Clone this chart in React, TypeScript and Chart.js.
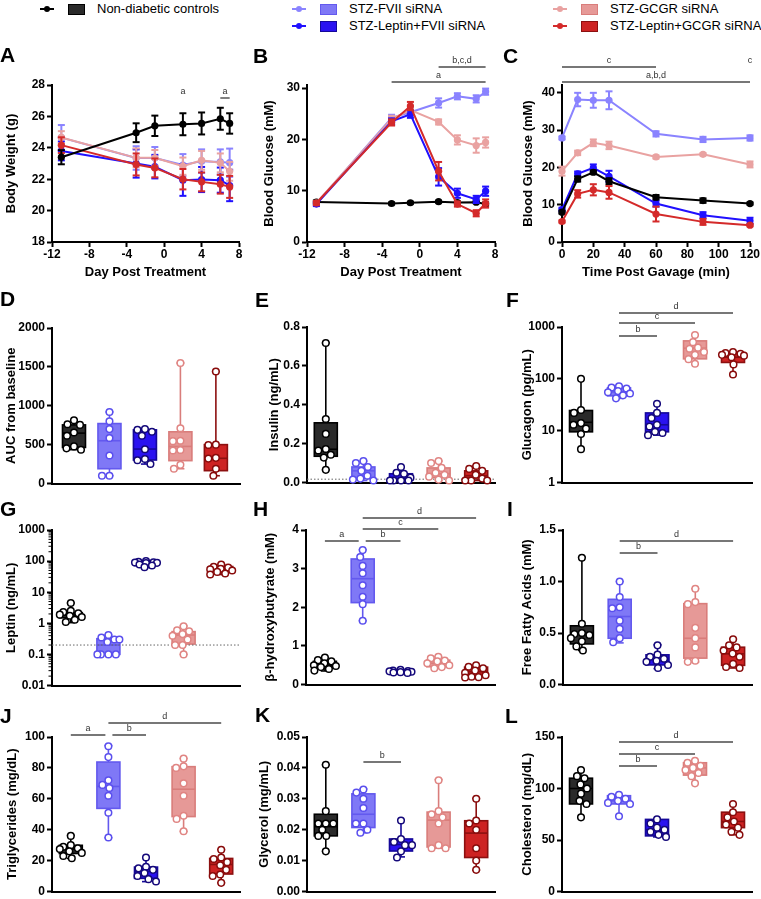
import React, { useEffect, useRef } from "react";
import { Chart, registerables } from "chart.js";

Chart.register(...registerables);

const FONT = '"Liberation Sans", Arial, Helvetica, sans-serif';

// ---------- groups ----------
const GROUPS = ["Non-diabetic controls", "STZ-FVII siRNA", "STZ-Leptin+FVII siRNA", "STZ-GCGR siRNA", "STZ-Leptin+GCGR siRNA"];
const LINE_COLOR = ["#000000", "#8a83ff", "#2010ff", "#e9a2a1", "#d42a2a"];
const BOX_FILL = ["#2a2a2a", "#7f78f6", "#2a12f0", "#e69997", "#cd2323"];
const BOX_EDGE = ["#000000", "#6359ee", "#15089a", "#d97d7b", "#8c1010"];
const DOT_EDGE = ["#000000", "#5a4fee", "#14087a", "#e08583", "#880b0b"];

// ---------- Panel A: body weight ----------
const DAYS = [-11, -3, -1, 2, 4, 6, 7];
const A_CTRL = [23.4, 24.96, 25.4, 25.5, 25.55, 25.85, 25.55];
const A_CTRL_SEM = [0.45, 0.6, 0.65, 0.7, 0.7, 0.7, 0.65];
const A_FVII = [24.65, 23.35, 23.35, 22.9, 23.15, 23.1, 23.05];
const A_FVII_SEM = [0.8, 0.75, 0.7, 0.7, 0.75, 0.8, 0.9];
const A_LEPFVII = [23.8, 23.0, 22.8, 21.94, 21.98, 21.94, 21.6];
const A_LEPFVII_SEM = [0.6, 0.9, 0.75, 1.0, 0.8, 0.8, 1.0];
const A_GCGR = [24.66, 23.36, 23.36, 22.83, 23.2, 23.04, 22.5];
const A_GCGR_SEM = [0.4, 0.6, 0.5, 0.55, 0.6, 0.6, 0.6];
const A_LEPGCGR = [24.17, 22.94, 22.72, 22.0, 21.83, 21.68, 21.51];
const A_LEPGCGR_SEM = [0.5, 0.7, 0.6, 0.65, 0.6, 0.6, 0.7];
const A_YTICKS = [18, 20, 22, 24, 26, 28];
const DAY_TICKS = [-12, -8, -4, 0, 4, 8];

// ---------- Panel B: blood glucose ----------
const B_CTRL = [7.8, 7.5, 7.65, 7.85, 7.7, 7.75, 7.4];
const B_CTRL_SEM = [0.3, 0.2, 0.2, 0.2, 0.2, 0.2, 0.3];
const B_FVII = [7.5, 24.2, 25.3, 27.1, 28.4, 27.9, 29.3];
const B_FVII_SEM = [0.4, 0.6, 0.7, 0.9, 0.6, 0.7, 0.6];
const B_LEPFVII = [7.4, 23.5, 24.9, 12.7, 9.5, 8.3, 9.9];
const B_LEPFVII_SEM = [0.4, 0.6, 0.7, 1.7, 0.9, 0.7, 0.9];
const B_GCGR = [7.6, 24.0, 25.7, 23.4, 19.9, 18.8, 19.4];
const B_GCGR_SEM = [0.4, 0.6, 0.7, 0.5, 0.9, 1.4, 1.0];
const B_LEPGCGR = [7.6, 23.3, 26.5, 13.8, 7.4, 5.6, 7.5];
const B_LEPGCGR_SEM = [0.4, 0.6, 0.8, 1.8, 0.5, 0.6, 0.8];
const B_YTICKS = [0, 10, 20, 30];

// ---------- Panel C: OGTT ----------
const TIMES = [0, 10, 20, 30, 60, 90, 120];
const C_CTRL = [8.0, 16.9, 18.7, 16.3, 12.0, 11.1, 10.3];
const C_CTRL_SEM = [0.4, 0.7, 0.5, 0.8, 0.6, 0.6, 0.3];
const C_FVII = [27.9, 38.2, 38.0, 38.0, 29.0, 27.5, 27.9];
const C_FVII_SEM = [0.4, 1.8, 2.0, 2.4, 0.7, 0.7, 0.7];
const C_LEPFVII = [8.7, 18.3, 19.9, 17.6, 10.3, 7.2, 5.7];
const C_LEPFVII_SEM = [0.5, 0.6, 0.9, 1.5, 0.8, 0.8, 0.8];
const C_GCGR = [19.0, 23.9, 26.6, 25.9, 22.8, 23.5, 20.8];
const C_GCGR_SEM = [1.2, 0.6, 0.9, 1.0, 0.4, 0.3, 0.8];
const C_LEPGCGR = [5.5, 12.9, 14.0, 13.3, 7.5, 5.4, 4.5];
const C_LEPGCGR_SEM = [0.3, 1.0, 1.5, 1.7, 2.0, 0.8, 0.3];
const C_YTICKS = [0, 10, 20, 30, 40];
const TIME_TICKS = [0, 20, 40, 60, 80, 100, 120];

// ---------- box panels: [min, q1, median, q3, max] per group ----------
const D_BOX = [[435, 464, 648, 754, 814], [100, 190, 550, 771, 920], [250, 302, 443, 690, 700], [190, 294, 477, 665, 1550], [100, 165, 324, 500, 1440]];
const D_PTS = [[814, 763, 754, 656, 614, 477, 452, 435], [920, 800, 700, 585, 360, 100, 100], [700, 690, 665, 615, 440, 315, 300, 250], [1550, 710, 550, 545, 430, 425, 240, 190], [1440, 500, 495, 330, 320, 190, 100]];
const D_YTICKS = [0, 500, 1000, 1500, 2000];

const E_BOX = [[0.065, 0.135, 0.171, 0.307, 0.718], [0.01, 0.02, 0.06, 0.08, 0.11], [0.01, 0.012, 0.02, 0.045, 0.08], [0.01, 0.025, 0.045, 0.075, 0.11], [0.01, 0.014, 0.035, 0.06, 0.085]];
const E_PTS = [[0.718, 0.327, 0.25, 0.172, 0.165, 0.143, 0.128, 0.065], [0.11, 0.1, 0.08, 0.06, 0.035, 0.02, 0.015, 0.01], [0.08, 0.05, 0.045, 0.025, 0.01, 0.01, 0.01, 0.01], [0.11, 0.1, 0.075, 0.05, 0.04, 0.03, 0.015, 0.01], [0.085, 0.07, 0.06, 0.04, 0.02, 0.01, 0.01, 0.01]];
const E_YTICKS = [0, 0.2, 0.4, 0.6, 0.8];
const E_YLABELS = ["0.0", "0.2", "0.4", "0.6", "0.8"];
const E_DETECTION = 0.017;

const F_BOX = [[4.4, 9.5, 14.5, 24.5, 100], [42, 47, 56, 67, 73], [8.2, 9.5, 13, 22, 33], [192, 243, 390, 540, 700], [121, 207, 261, 320, 330]];
const F_PTS = [[100, 25, 22, 14, 13, 11, 8.6, 4.4], [72, 68, 65, 58, 55, 52, 48, 42], [33, 22, 17.5, 13, 12, 9.5, 9, 8.2], [700, 510, 400, 380, 330, 290, 240, 195], [330, 315, 305, 290, 280, 260, 190, 121]];
const F_YTICKS = [1, 10, 100, 1000];

const G_BOX = [[1.05, 1.5, 1.84, 2.2, 4.5], [0.1, 0.1, 0.2, 0.32, 0.42], [62, 72, 85, 96, 101], [0.1, 0.215, 0.42, 0.54, 0.82], [37, 46, 56, 67, 79]];
const G_PTS = [[4.5, 2.5, 2.3, 2.1, 1.9, 1.75, 1.6, 1.3, 1.1], [0.42, 0.35, 0.3, 0.3, 0.25, 0.1, 0.1, 0.1, 0.1], [101, 95, 92, 90, 88, 86, 78, 72, 64], [0.8, 0.6, 0.55, 0.45, 0.4, 0.3, 0.2, 0.2, 0.1], [78, 66, 62, 57, 54, 50, 45, 40, 37]];
const G_YTICKS = [0.01, 0.1, 1, 10, 100, 1000];
const G_DETECTION = 0.2;

const H_BOX = [[0.35, 0.42, 0.5, 0.6, 0.7], [1.65, 2.12, 2.74, 3.25, 3.49], [0.29, 0.31, 0.34, 0.36, 0.38], [0.42, 0.46, 0.55, 0.63, 0.72], [0.18, 0.22, 0.33, 0.45, 0.5]];
const H_PTS = [[0.7, 0.63, 0.6, 0.55, 0.5, 0.48, 0.45, 0.4, 0.36], [3.48, 3.3, 3.07, 2.88, 2.57, 2.27, 2.08, 1.65], [0.38, 0.36, 0.35, 0.34, 0.33, 0.32, 0.31, 0.3], [0.72, 0.68, 0.62, 0.6, 0.55, 0.5, 0.45, 0.42], [0.5, 0.46, 0.42, 0.36, 0.3, 0.24, 0.2, 0.19, 0.18]];
const H_YTICKS = [0, 1, 2, 3, 4];

const I_BOX = [[0.33, 0.394, 0.497, 0.57, 1.234], [0.404, 0.449, 0.66, 0.827, 1.0], [0.154, 0.19, 0.244, 0.288, 0.385], [0.218, 0.256, 0.449, 0.785, 0.93], [0.16, 0.186, 0.298, 0.362, 0.442]];
const I_PTS = [[1.23, 0.59, 0.5, 0.49, 0.48, 0.45, 0.42, 0.37, 0.33], [1.0, 0.85, 0.75, 0.74, 0.62, 0.54, 0.45, 0.41], [0.38, 0.29, 0.27, 0.25, 0.23, 0.22, 0.19, 0.16], [0.93, 0.8, 0.78, 0.55, 0.45, 0.36, 0.23, 0.22], [0.44, 0.38, 0.36, 0.33, 0.3, 0.27, 0.2, 0.17, 0.16]];
const I_YTICKS = [0, 0.5, 1, 1.5];
const I_YLABELS = ["0.0", "0.5", "1.0", "1.5"];

const J_BOX = [[21.4, 24.6, 27.4, 29.9, 36.3], [34.8, 53.8, 68, 83.8, 94.4], [6.4, 8.5, 13, 15.8, 22], [38.9, 48.5, 66.2, 80.8, 86.1], [5.6, 11.3, 17.5, 21.4, 27.1]];
const J_PTS = [[36, 30, 29, 28, 27.5, 26, 25, 23, 21.5], [94, 87, 72, 69, 67, 62, 51, 35], [22, 16, 15, 14, 12, 10, 8, 6.5], [86, 81, 80, 70, 62, 49, 47, 39], [27, 22, 21, 19, 17, 14, 11, 10, 5.6]];
const J_YTICKS = [0, 20, 40, 60, 80, 100];

const K_BOX = [[0.013, 0.018, 0.021, 0.025, 0.041], [0.019, 0.0207, 0.025, 0.0316, 0.0332], [0.0112, 0.0131, 0.0152, 0.017, 0.0231], [0.014, 0.0144, 0.0231, 0.0257, 0.0362], [0.0069, 0.011, 0.0189, 0.0229, 0.0301]];
const K_PTS = [[0.041, 0.026, 0.022, 0.022, 0.022, 0.02, 0.018, 0.018, 0.013], [0.033, 0.032, 0.03, 0.027, 0.022, 0.022, 0.02, 0.019], [0.023, 0.017, 0.016, 0.015, 0.015, 0.013, 0.011], [0.036, 0.026, 0.025, 0.024, 0.022, 0.015, 0.014, 0.014], [0.03, 0.023, 0.022, 0.02, 0.014, 0.01, 0.007]];
const K_YTICKS = [0, 0.01, 0.02, 0.03, 0.04, 0.05];
const K_YLABELS = ["0.00", "0.01", "0.02", "0.03", "0.04", "0.05"];

const L_BOX = [[72, 85, 100, 110, 118], [73, 85, 88, 93, 94], [53, 54, 60, 70, 70], [105, 113, 120, 125, 127], [55, 62, 68, 77, 85]];
const L_PTS = [[118, 112, 110, 104, 100, 95, 88, 85, 72], [94, 92, 90, 88, 86, 85, 73], [70, 66, 62, 60, 58, 55, 53], [127, 125, 122, 120, 118, 115, 112, 105], [85, 77, 72, 68, 65, 62, 58, 55]];
const L_YTICKS = [0, 50, 100, 150];

// ---------- helpers ----------
const R_PT = 3.3;
const BOX_HALF = 11.5;
const SWARM_MAX = 11;

function seg(ctx: any, x1: number, y1: number, x2: number, y2: number) {
  ctx.beginPath();
  ctx.moveTo(x1, y1);
  ctx.lineTo(x2, y2);
  ctx.stroke();
}

// place points (pixel space) side by side when they overlap, limited to the box width
function swarmOffsets(vals: number[], toPx: (v: number) => number, r: number) {
  const idx = vals.map((_, i) => i).sort((a, b) => vals[b] - vals[a]);
  const placed: number[][] = [];
  const off = new Array(vals.length).fill(0);
  const d = 2 * r + 0.8;
  const cands: number[] = [0];
  for (let k = 1; k * 0.5 <= SWARM_MAX; k++) {
    cands.push(-k * 0.5, k * 0.5);
  }
  for (const i of idx) {
    const y = toPx(vals[i]);
    let best = 0;
    let bestCost = Infinity;
    for (const c of cands) {
      let overlap = 0;
      for (const [px, py] of placed) {
        const dist = Math.hypot(px - c, py - y);
        if (dist < d) overlap += d - dist;
      }
      const cost = overlap * 100 + Math.abs(c);
      if (cost < bestCost) {
        bestCost = cost;
        best = c;
      }
    }
    placed.push([best, y]);
    off[i] = best;
  }
  return off;
}

const tickFont = { family: FONT, size: 12, weight: "bold" as const };
const titleFont = { family: FONT, size: 13, weight: "bold" as const };

function yAxis(def: any, width: number) {
  const labels = def.labels || def.ticks.map((v: number) => String(v));
  return {
    type: def.log ? "logarithmic" : "linear",
    position: "left",
    min: def.min,
    max: def.max,
    afterBuildTicks: (s: any) => {
      s.ticks = def.ticks.map((v: number) => ({ value: v }));
    },
    afterFit: (s: any) => {
      s.width = width;
      s.paddingTop = 0;
      s.paddingBottom = 0;
    },
    border: { display: true, color: "#000", width: 2 },
    grid: { display: true, drawOnChartArea: false, drawTicks: true, tickLength: 5, tickWidth: 2, tickColor: "#000" },
    ticks: { autoSkip: false, padding: 2, color: "#000", font: tickFont, callback: (_v: any, i: number) => labels[i] },
    title: { display: true, text: def.title, color: "#000", font: titleFont, padding: 0 },
  };
}

function sigPlugin(sigs: any[]) {
  return {
    id: "sig",
    afterDraw(chart: any) {
      const { ctx, chartArea, scales } = chart;
      ctx.save();
      ctx.strokeStyle = "#4a4a4a";
      ctx.lineWidth = 1.4;
      ctx.fillStyle = "#333";
      ctx.font = `9px ${FONT}`;
      ctx.textAlign = "center";
      ctx.textBaseline = "bottom";
      sigs.forEach((s) => {
        const x1 = scales.x.getPixelForValue(s.from) + (s.g1 || 0);
        const x2 = scales.x.getPixelForValue(s.to) - (s.g2 || 0);
        const yy = chartArea.top + s.dy;
        if (!s.noLine) seg(ctx, x1, yy, x2, yy);
        ctx.fillText(s.label, (x1 + x2) / 2, yy - 2);
      });
      ctx.restore();
    },
  };
}

const errPlugin = {
  id: "err",
  beforeDatasetDraw(chart: any, args: any) {
    const ds = chart.data.datasets[args.index];
    if (!ds.errs) return;
    const { ctx, scales } = chart;
    ctx.save();
    ctx.strokeStyle = ds.borderColor;
    ctx.lineWidth = 2;
    ds.data.forEach((p: any, i: number) => {
      const px = scales.x.getPixelForValue(p.x);
      const yt = scales.y.getPixelForValue(p.y + ds.errs[i]);
      const yb = scales.y.getPixelForValue(p.y - ds.errs[i]);
      seg(ctx, px, yt, px, yb);
      seg(ctx, px - 3.5, yt, px + 3.5, yt);
      seg(ctx, px - 3.5, yb, px + 3.5, yb);
    });
    ctx.restore();
  },
};

const PAD_TOP = 32;
const PAD_RIGHT = 14;

function baseOptions(geo: any, x: any, y: any) {
  return {
    responsive: false,
    maintainAspectRatio: false,
    animation: false,
    devicePixelRatio: 1,
    events: [],
    layout: { padding: { left: 0, top: PAD_TOP, right: PAD_RIGHT, bottom: 2 } },
    plugins: { legend: { display: false }, tooltip: { enabled: false }, title: { display: false } },
    scales: { x, y },
  };
}

function lineConfig(def: any) {
  return (geo: any) => {
    const xLabels = def.xTicks.map((v: number) => String(v));
    const x = {
      type: "linear",
      position: "bottom",
      min: def.xMin,
      max: def.xMax,
      afterBuildTicks: (s: any) => {
        s.ticks = def.xTicks.map((v: number) => ({ value: v }));
      },
      afterFit: (s: any) => {
        s.height = geo.xb - geo.B;
        s.paddingLeft = 0;
        s.paddingRight = 0;
      },
      border: { display: true, color: "#000", width: 2 },
      grid: { display: true, drawOnChartArea: false, drawTicks: true, tickLength: 5, tickWidth: 2, tickColor: "#000" },
      ticks: { autoSkip: false, maxRotation: 0, padding: 0, color: "#000", font: tickFont, callback: (_v: any, i: number) => xLabels[i] },
      title: { display: true, text: def.xTitle, color: "#000", font: titleFont, padding: 0 },
    };
    const datasets = def.series.map((s: any) => ({
      data: def.xs.map((xv: number, i: number) => ({ x: xv, y: s.mean[i] })),
      errs: s.sem,
      borderColor: LINE_COLOR[s.g],
      backgroundColor: LINE_COLOR[s.g],
      pointBackgroundColor: LINE_COLOR[s.g],
      pointBorderColor: LINE_COLOR[s.g],
      pointRadius: 3.6,
      pointBorderWidth: 0,
      borderWidth: 2,
      tension: 0,
      clip: false,
      order: s.order,
    }));
    return {
      type: "line",
      data: { datasets },
      options: baseOptions(geo, x, yAxis(def.y, geo.L - geo.axL)),
      plugins: [errPlugin, sigPlugin(def.sig)],
    };
  };
}

function boxConfig(def: any) {
  return (geo: any) => {
    const plotW = geo.R - geo.L;
    const plotH = geo.B - geo.T;
    const xMin = def.xMin ?? -0.5;
    const xMax = def.xMax ?? 4.5;
    const pxPerX = plotW / (xMax - xMin);
    const y = def.y;
    const toPx = y.log
      ? (v: number) => ((Math.log10(v) - Math.log10(y.min)) * plotH) / (Math.log10(y.max) - Math.log10(y.min))
      : (v: number) => ((v - y.min) * plotH) / (y.max - y.min);
    const datasets = def.pts.map((vals: number[], g: number) => {
      const offs = swarmOffsets(vals, toPx, R_PT);
      return {
        type: "scatter",
        data: vals.map((v, i) => ({ x: g + offs[i] / pxPerX, y: v })),
        pointRadius: R_PT,
        pointBorderWidth: 1.5,
        pointBackgroundColor: "#ffffff",
        pointBorderColor: DOT_EDGE[g],
        showLine: false,
        clip: false,
      };
    });
    const x = {
      type: "linear",
      position: "bottom",
      min: xMin,
      max: xMax,
      afterFit: (s: any) => {
        s.height = geo.xb - geo.B;
        s.paddingLeft = 0;
        s.paddingRight = 0;
      },
      border: { display: true, color: "#000", width: 2 },
      grid: { display: false },
      ticks: { display: false },
    };
    const boxPlugin = {
      id: "boxes",
      beforeDatasetsDraw(chart: any) {
        const { ctx, scales, chartArea } = chart;
        const Y = (v: number) => scales.y.getPixelForValue(v);
        ctx.save();
        def.box.forEach((b: number[], g: number) => {
          const [mn, q1, md, q3, mx] = b;
          const cx = scales.x.getPixelForValue(g);
          ctx.strokeStyle = BOX_EDGE[g];
          ctx.lineWidth = 1.6;
          seg(ctx, cx, Y(mx), cx, Y(q3));
          seg(ctx, cx, Y(q1), cx, Y(mn));
          seg(ctx, cx - 4, Y(mx), cx + 4, Y(mx));
          seg(ctx, cx - 4, Y(mn), cx + 4, Y(mn));
          ctx.fillStyle = BOX_FILL[g];
          ctx.fillRect(cx - BOX_HALF, Y(q3), BOX_HALF * 2, Y(q1) - Y(q3));
          ctx.strokeRect(cx - BOX_HALF, Y(q3), BOX_HALF * 2, Y(q1) - Y(q3));
          seg(ctx, cx - BOX_HALF, Y(md), cx + BOX_HALF, Y(md));
        });
        if (def.ref != null) {
          ctx.strokeStyle = "#666";
          ctx.lineWidth = 1;
          ctx.setLineDash([1.5, 2]);
          const ry = Y(def.ref);
          seg(ctx, chartArea.left, ry, chartArea.right, ry);
          ctx.setLineDash([]);
        }
        ctx.restore();
      },
      afterDraw(chart: any) {
        if (!def.minor) return;
        const { ctx, scales, chartArea } = chart;
        ctx.save();
        ctx.strokeStyle = "#000";
        ctx.lineWidth = 1;
        const lo = Math.round(Math.log10(y.min));
        const hi = Math.round(Math.log10(y.max));
        for (let d = lo; d < hi; d++) {
          for (let k = 2; k < 10; k++) {
            const py = scales.y.getPixelForValue(k * Math.pow(10, d));
            seg(ctx, chartArea.left - 3.5, py, chartArea.left, py);
          }
        }
        ctx.restore();
      },
    };
    return {
      type: "scatter",
      data: { datasets },
      options: baseOptions(geo, x, yAxis(y, geo.L - geo.axL)),
      plugins: [boxPlugin, sigPlugin(def.sig || [])],
    };
  };
}

// ---------- panel definitions ----------
const PANELS: any[] = [
  {
    letter: "A", lx: 0, ly: 44,
    geo: { axL: 4, L: 52, T: 85, R: 239, B: 242, xb: 280 },
    build: lineConfig({
      xs: DAYS, xMin: -12, xMax: 8, xTicks: DAY_TICKS, xTitle: "Day Post Treatment",
      y: { title: "Body Weight (g)", min: 18, max: 28, ticks: A_YTICKS },
      series: [
        { g: 1, mean: A_FVII, sem: A_FVII_SEM, order: 4 },
        { g: 2, mean: A_LEPFVII, sem: A_LEPFVII_SEM, order: 3 },
        { g: 3, mean: A_GCGR, sem: A_GCGR_SEM, order: 2 },
        { g: 4, mean: A_LEPGCGR, sem: A_LEPGCGR_SEM, order: 1 },
        { g: 0, mean: A_CTRL, sem: A_CTRL_SEM, order: 0 },
      ],
      sig: [
        { from: 2, to: 2, label: "a", dy: 13, noLine: true },
        { from: 6, to: 7, label: "a", dy: 13 },
      ],
    }),
  },
  {
    letter: "B", lx: 253, ly: 45,
    geo: { axL: 262, L: 307, T: 85, R: 495, B: 242, xb: 280 },
    build: lineConfig({
      xs: DAYS, xMin: -12, xMax: 8, xTicks: DAY_TICKS, xTitle: "Day Post Treatment",
      y: { title: "Blood Glucose (mM)", min: 0, max: 30.6, ticks: B_YTICKS },
      series: [
        { g: 0, mean: B_CTRL, sem: B_CTRL_SEM, order: 5 },
        { g: 1, mean: B_FVII, sem: B_FVII_SEM, order: 4 },
        { g: 3, mean: B_GCGR, sem: B_GCGR_SEM, order: 3 },
        { g: 2, mean: B_LEPFVII, sem: B_LEPFVII_SEM, order: 2 },
        { g: 4, mean: B_LEPGCGR, sem: B_LEPGCGR_SEM, order: 1 },
      ],
      sig: [
        { from: -3, to: 7, label: "a", dy: -3 },
        { from: 2, to: 7, label: "b,c,d", dy: -18 },
      ],
    }),
  },
  {
    letter: "C", lx: 503, ly: 45,
    geo: { axL: 521, L: 562, T: 85, R: 750, B: 242, xb: 280 },
    build: lineConfig({
      xs: TIMES, xMin: 0, xMax: 120, xTicks: TIME_TICKS, xTitle: "Time Post Gavage (min)",
      y: { title: "Blood Glucose (mM)", min: 0, max: 42.1, ticks: C_YTICKS },
      series: [
        { g: 1, mean: C_FVII, sem: C_FVII_SEM, order: 5 },
        { g: 3, mean: C_GCGR, sem: C_GCGR_SEM, order: 4 },
        { g: 2, mean: C_LEPFVII, sem: C_LEPFVII_SEM, order: 3 },
        { g: 0, mean: C_CTRL, sem: C_CTRL_SEM, order: 2 },
        { g: 4, mean: C_LEPGCGR, sem: C_LEPGCGR_SEM, order: 1 },
      ],
      sig: [
        { from: 0, to: 60, label: "c", dy: -18 },
        { from: 120, to: 120, label: "c", dy: -18, noLine: true },
        { from: 0, to: 120, label: "a,b,d", dy: -3 },
      ],
    }),
  },
  {
    letter: "D", lx: 0, ly: 288,
    geo: { axL: 4, L: 52, T: 328, R: 240, B: 485, xb: 487 },
    build: boxConfig({ y: { title: "AUC from baseline", min: 0, max: 2000, ticks: D_YTICKS }, xMin: -0.62, xMax: 4.68, box: D_BOX, pts: D_PTS }),
  },
  {
    letter: "E", lx: 255, ly: 289,
    geo: { axL: 267, L: 307, T: 327, R: 495, B: 484, xb: 486 },
    build: boxConfig({ y: { title: "Insulin (ng/mL)", min: 0, max: 0.8, ticks: E_YTICKS, labels: E_YLABELS }, box: E_BOX, pts: E_PTS, ref: E_DETECTION }),
  },
  {
    letter: "F", lx: 506, ly: 289,
    geo: { axL: 520, L: 562, T: 327, R: 752, B: 484, xb: 486 },
    build: boxConfig({
      y: { title: "Glucagon (pg/mL)", log: true, min: 1, max: 1000, ticks: F_YTICKS }, box: F_BOX, pts: F_PTS,
      sig: [
        { from: 1, to: 4, label: "d", dy: -14 },
        { from: 1, to: 3, label: "c", dy: -4 },
        { from: 1, to: 2, label: "b", dy: 9 },
      ],
    }),
  },
  {
    letter: "G", lx: 0, ly: 498,
    geo: { axL: 4, L: 52, T: 530, R: 240, B: 687, xb: 689 },
    build: boxConfig({ y: { title: "Leptin (ng/mL)", log: true, min: 0.01, max: 1000, ticks: G_YTICKS }, box: G_BOX, pts: G_PTS, ref: G_DETECTION, minor: true }),
  },
  {
    letter: "H", lx: 253, ly: 498,
    geo: { axL: 263, L: 306, T: 530, R: 495, B: 686, xb: 688 },
    build: boxConfig({
      y: { title: "β-hydroxybutyrate (mM)", min: 0, max: 4, ticks: H_YTICKS }, box: H_BOX, pts: H_PTS,
      sig: [
        { from: 0, to: 1, label: "a", dy: 11, g2: 4 },
        { from: 1, to: 2, label: "b", dy: 11, g1: 3 },
        { from: 1, to: 3, label: "c", dy: -1 },
        { from: 1, to: 4, label: "d", dy: -12 },
      ],
    }),
  },
  {
    letter: "I", lx: 507, ly: 498,
    geo: { axL: 520, L: 563, T: 530, R: 752, B: 686, xb: 688 },
    build: boxConfig({
      y: { title: "Free Fatty Acids (mM)", min: 0, max: 1.5, ticks: I_YTICKS, labels: I_YLABELS }, box: I_BOX, pts: I_PTS,
      sig: [
        { from: 1, to: 4, label: "d", dy: 11 },
        { from: 1, to: 2, label: "b", dy: 23 },
      ],
    }),
  },
  {
    letter: "J", lx: 0, ly: 705,
    geo: { axL: 5, L: 52, T: 737, R: 240, B: 893, xb: 895 },
    build: boxConfig({
      y: { title: "Triglycerides (mg/dL)", min: 0, max: 100, ticks: J_YTICKS }, box: J_BOX, pts: J_PTS,
      sig: [
        { from: 0, to: 1, label: "a", dy: -2, g2: 3 },
        { from: 1, to: 2, label: "b", dy: -2, g1: 4 },
        { from: 1, to: 4, label: "d", dy: -14 },
      ],
    }),
  },
  {
    letter: "K", lx: 255, ly: 704,
    geo: { axL: 257, L: 307, T: 737, R: 495, B: 893, xb: 895 },
    build: boxConfig({
      y: { title: "Glycerol (mg/mL)", min: 0, max: 0.05, ticks: K_YTICKS, labels: K_YLABELS }, box: K_BOX, pts: K_PTS,
      sig: [{ from: 1, to: 2, label: "b", dy: 25 }],
    }),
  },
  {
    letter: "L", lx: 505, ly: 705,
    geo: { axL: 520, L: 562, T: 737, R: 752, B: 893, xb: 895 },
    build: boxConfig({
      y: { title: "Cholesterol (mg/dL)", min: 0, max: 150, ticks: L_YTICKS }, box: L_BOX, pts: L_PTS,
      sig: [
        { from: 1, to: 4, label: "d", dy: 5 },
        { from: 1, to: 3, label: "c", dy: 17 },
        { from: 1, to: 2, label: "b", dy: 29 },
      ],
    }),
  },
];

function Panel({ p }: { p: any }) {
  const ref = useRef<HTMLCanvasElement>(null);
  const geo = p.geo;
  const left = geo.axL;
  const top = geo.T - PAD_TOP;
  const w = geo.R + PAD_RIGHT - left;
  const h = geo.xb + 2 - top;
  useEffect(() => {
    const chart = new Chart(ref.current as HTMLCanvasElement, p.build(geo));
    return () => chart.destroy();
  }, []);
  return (
    <>
      <canvas ref={ref} width={w} height={h} style={{ position: "absolute", left, top, width: w, height: h }} />
      <div style={{ position: "absolute", left: p.lx, top: p.ly, font: `bold 21px ${FONT}`, lineHeight: "21px", color: "#000" }}>{p.letter}</div>
    </>
  );
}

function Legend() {
  const items = [
    { g: 0, x: 97, y: 9 },
    { g: 1, x: 349, y: 9 },
    { g: 2, x: 349, y: 26 },
    { g: 3, x: 610, y: 9 },
    { g: 4, x: 610, y: 26 },
  ];
  return (
    <>
      {items.map((it) => (
        <React.Fragment key={it.g}>
          <div style={{ position: "absolute", left: it.x - 57, top: it.y - 1, width: 14, height: 2, background: LINE_COLOR[it.g] }} />
          <div style={{ position: "absolute", left: it.x - 53, top: it.y - 3, width: 6, height: 6, borderRadius: 3, background: LINE_COLOR[it.g] }} />
          <div style={{ position: "absolute", left: it.x - 29, top: it.y - 5.5, width: 15, height: 9, background: BOX_FILL[it.g], border: `1px solid ${BOX_EDGE[it.g]}` }} />
          <div style={{ position: "absolute", left: it.x, top: it.y - 8, font: `13px ${FONT}`, lineHeight: "16px", whiteSpace: "nowrap", color: "#000" }}>{GROUPS[it.g]}</div>
        </React.Fragment>
      ))}
    </>
  );
}

export default function App() {
  return (
    <div style={{ position: "absolute", left: 0, top: 0, width: 761, height: 899, background: "#fff", overflow: "hidden" }}>
      <Legend />
      {PANELS.map((p) => (
        <Panel key={p.letter} p={p} />
      ))}
    </div>
  );
}
